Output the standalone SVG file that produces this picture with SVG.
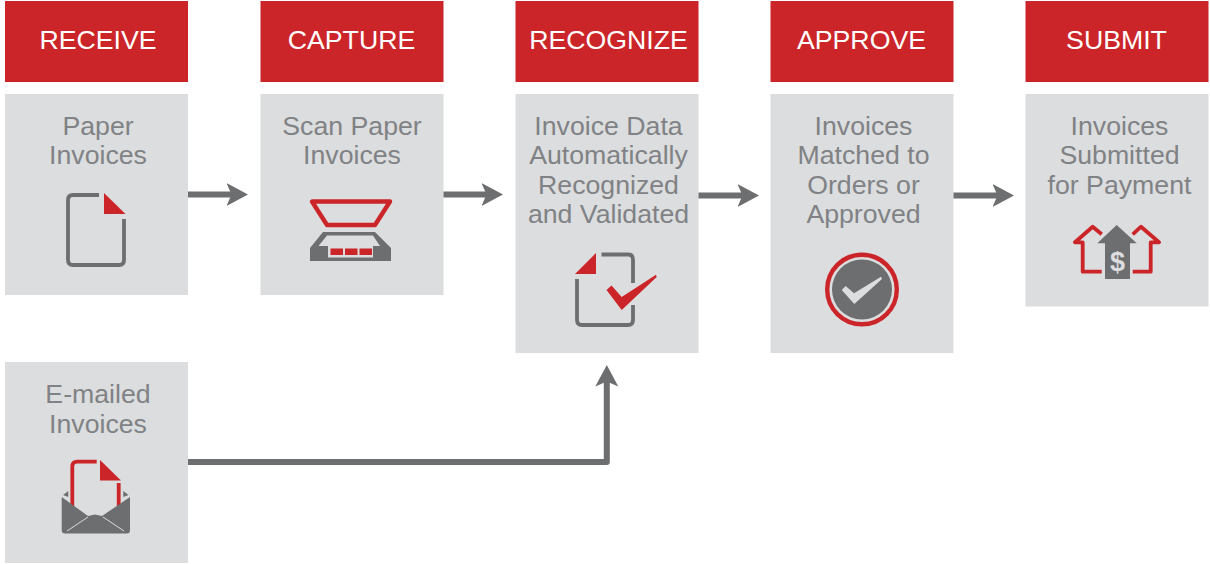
<svg xmlns="http://www.w3.org/2000/svg" width="1210" height="564" viewBox="0 0 1210 564">
<style>
text{font-family:"Liberation Sans",Arial,sans-serif;font-size:26.7px;text-anchor:middle}
.h{fill:#cc2529}
.b{fill:#dcddde}
.ht{fill:#fff}
.bt{fill:#808285}
.g{fill:#6d6e70}
.r{fill:#cc2529}
.gl{fill:none;stroke:#6d6e70;stroke-width:3.8;stroke-linejoin:round;stroke-linecap:butt}
.rl{fill:none;stroke:#cc2529;stroke-width:3.8;stroke-linejoin:round;stroke-linecap:butt}
.c{fill:none;stroke:#6d6e70;stroke-width:6;stroke-linejoin:round}
</style>
<defs>
<marker id="ah" markerUnits="userSpaceOnUse" markerWidth="26" markerHeight="26" refX="7" refY="13" orient="auto" viewBox="0 0 26 26">
<path d="M0,1.5 L21.500,13 L0,24.500 L5,13 Z" fill="#6d6e70"/>
</marker>
</defs>
<g id="receive-header"><rect class="h" x="5" y="1" width="183" height="81"/><text class="ht" x="98" y="49">RECEIVE</text></g>
<g id="capture-header"><rect class="h" x="260.500" y="1" width="183" height="81"/><text class="ht" x="351.500" y="49">CAPTURE</text></g>
<g id="recognize-header"><rect class="h" x="515.500" y="1" width="183" height="81"/><text class="ht" x="608.500" y="49">RECOGNIZE</text></g>
<g id="approve-header"><rect class="h" x="770.500" y="1" width="183" height="81"/><text class="ht" x="861.500" y="49">APPROVE</text></g>
<g id="submit-header"><rect class="h" x="1025.500" y="1" width="183" height="81"/><text class="ht" x="1116.500" y="49">SUBMIT</text></g>

<g id="paper-invoices">
<rect class="b" x="5" y="94" width="183" height="201"/>
<text class="bt" x="98" y="135">Paper</text><text class="bt" x="98" y="164">Invoices</text>
<path class="gl" d="M99,195 H73 Q68,195 68,200 V260 Q68,265 73,265 H119 Q124,265 124,260 V219"/>
<path class="r" d="M104,193 L125.500,214 H104 Z"/>
</g>
<g id="scan-paper-invoices">
<rect class="b" x="260.500" y="94" width="183" height="201"/>
<text class="bt" x="352" y="135">Scan Paper</text><text class="bt" x="352" y="164">Invoices</text>
<path class="rl" style="stroke-width:4.400" d="M312,201.500 H390 L375,225 H327 Z"/>
<path class="g" d="M323,232 H375 L391,248 V261 H310 V248 Z"/>
<path class="b" d="M327,235.500 H373 L380,246 H373 V257.500 H328 V246 H318.500 Z"/>
<rect class="r" x="330.500" y="248.500" width="12.500" height="6.500"/><rect class="r" x="345" y="248.500" width="12.500" height="6.500"/><rect class="r" x="359.500" y="248.500" width="12.500" height="6.500"/>
</g>
<g id="invoice-data-recognized">
<rect class="b" x="515.500" y="94" width="183" height="259"/>
<text class="bt" x="608.500" y="135">Invoice Data</text><text class="bt" x="608.500" y="164">Automatically</text><text class="bt" x="608.500" y="194">Recognized</text><text class="bt" x="608.500" y="223">and Validated</text>
<path class="gl" d="M601.500,254.500 H628 Q633,254.500 633,259.500 V283 M633,305 V320 Q633,325 628,325 H582 Q577,325 577,320 V279"/>
<path class="r" d="M596,253 V274 H575 Z"/>
<path class="r" d="M606.500,290 L611.500,285.500 L621.700,297 L656,274.700 L656.700,277 L621.700,310 Z"/>
</g>
<g id="invoices-matched">
<rect class="b" x="770.500" y="94" width="183" height="259"/>
<text class="bt" x="863.500" y="135">Invoices</text><text class="bt" x="863.500" y="164">Matched to</text><text class="bt" x="863.500" y="194">Orders or</text><text class="bt" x="863.500" y="223">Approved</text>
<circle cx="862" cy="289.500" r="34.800" fill="none" stroke="#cc2529" stroke-width="4.400"/>
<circle cx="862" cy="289.500" r="30" class="g"/>
<path fill="#dcddde" d="M841.700,290 L845.700,286 L854,293.300 L881,276.700 L882,279 L854.300,304 Z"/>
</g>
<g id="invoices-submitted">
<rect class="b" x="1025.500" y="94" width="183" height="212.500"/>
<text class="bt" x="1119.500" y="135">Invoices</text><text class="bt" x="1119.500" y="164">Submitted</text><text class="bt" x="1119.500" y="194">for Payment</text>
<path class="rl" d="M1101.700,234.300 L1092.700,226.700 L1075,242.300 H1082.700 V271.700 H1101.700 M1132.700,234.300 L1141,226.700 L1159,242.300 H1150.700 V271.700 H1132.700"/>
<path class="g" d="M1116.700,225 L1136.700,243.300 H1130 V279 H1105 V243.300 H1097.300 Z"/>
<text x="1117.500" y="271" style="font-size:27px;font-weight:bold;fill:#dcddde">$</text>
</g>
<g id="emailed-invoices">
<rect class="b" x="5" y="362" width="183" height="201"/>
<text class="bt" x="98" y="403">E-mailed</text><text class="bt" x="98" y="433">Invoices</text>
<path class="rl" d="M96.700,461.700 H77.300 Q72.300,461.700 72.300,466.700 V506 M118.700,483 V506"/>
<path class="r" d="M100,460 L121,480.500 H100 Z"/>
<path class="g" d="M63,495 L68.300,491 V497 Z M128.500,495 L123.300,491 V497 Z"/>
<path class="g" d="M61.700,497 L88,516 L95,514.500 L102,516 L130,497 V530 Q130,533.500 127,533.500 H65 Q61.700,533.500 61.700,530 Z"/>
<path fill="none" stroke="#dcddde" stroke-width="1" d="M67,531 L88,517 M124,531 L103,517"/>
</g>

<g id="connectors">
<path class="c" d="M188,194.500 H233.500" marker-end="url(#ah)"/>
<path class="c" d="M443.500,194.500 H488.500" marker-end="url(#ah)"/>
<path class="c" d="M698.500,195.500 H744.500" marker-end="url(#ah)"/>
<path class="c" d="M953.500,195.500 H999.500" marker-end="url(#ah)"/>
<path class="c" d="M188,462 H606.800 V379.500" marker-end="url(#ah)"/>
</g>
</svg>
